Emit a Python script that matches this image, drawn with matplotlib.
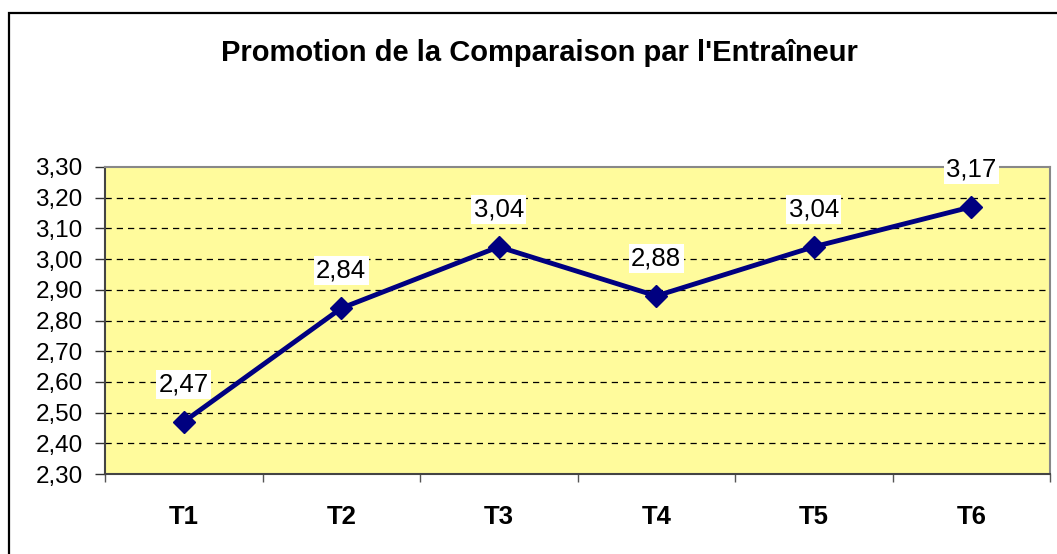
import matplotlib.pyplot as plt
from matplotlib.patches import Rectangle
from matplotlib.ticker import FixedLocator

plt.rcParams['font.family'] = ['Liberation Sans', 'DejaVu Sans']

categories = ["T1", "T2", "T3", "T4", "T5", "T6"]
values = [2.47, 2.84, 3.04, 2.88, 3.04, 3.17]
yticks = [2.30, 2.40, 2.50, 2.60, 2.70, 2.80, 2.90, 3.00, 3.10, 3.20, 3.30]

fig = plt.figure(figsize=(10.57, 5.54), dpi=100)
ax = fig.add_axes([105/1057, 1 - 474/554, (1050 - 105)/1057, (474 - 167)/554])

# outer chart border (cropped on right and bottom)
fig.patches.append(Rectangle((9/1057, -0.1), 1.2, 1 - 13/554 + 0.1,
                             transform=fig.transFigure, fill=False,
                             edgecolor='black', linewidth=1.6))

ax.set_facecolor('#FFFB9C')
x = list(range(len(categories)))

for y in yticks[1:-1]:
    ax.axhline(y, color='black', linestyle=(0, (5, 4)), linewidth=0.9, zorder=1)

ax.plot(x, values, color='#000080', linewidth=3.5, marker='D', markersize=11, zorder=3)

for xi, v in zip(x, values):
    ax.annotate(f"{v:.2f}".replace('.', ','), (xi, v), xytext=(0, 27),
                textcoords='offset points', ha='center', va='center', fontsize=18.5,
                bbox=dict(boxstyle='square,pad=0.1', facecolor='white', edgecolor='none'),
                zorder=4)

ax.set_xlim(-0.5, len(categories) - 0.5)
ax.set_ylim(2.30, 3.30)
ax.set_yticks(yticks)
ax.set_yticklabels([f"{t:.2f}".replace('.', ',') for t in yticks], fontsize=17.5)
ax.set_xticks(x)
ax.set_xticklabels(categories, fontsize=18.5, fontweight='bold')
ax.xaxis.set_minor_locator(FixedLocator([i - 0.5 for i in range(len(categories) + 1)]))
ax.tick_params(axis='x', which='major', length=0, pad=22)
ax.tick_params(axis='x', which='minor', length=6, width=1, color='#555555')
ax.tick_params(axis='y', length=7, width=1, pad=9, color='#333333')

for side in ['top', 'right']:
    ax.spines[side].set_color('#888888')
    ax.spines[side].set_linewidth(1.5)
for side in ['left', 'bottom']:
    ax.spines[side].set_color('#444444')
    ax.spines[side].set_linewidth(1.5)

fig.text(539/1057, 1 - 53/554, "Promotion de la Comparaison par l'Entraîneur",
         ha='center', va='center', fontsize=21, fontweight='bold')

fig.savefig('out.png', dpi=100)
